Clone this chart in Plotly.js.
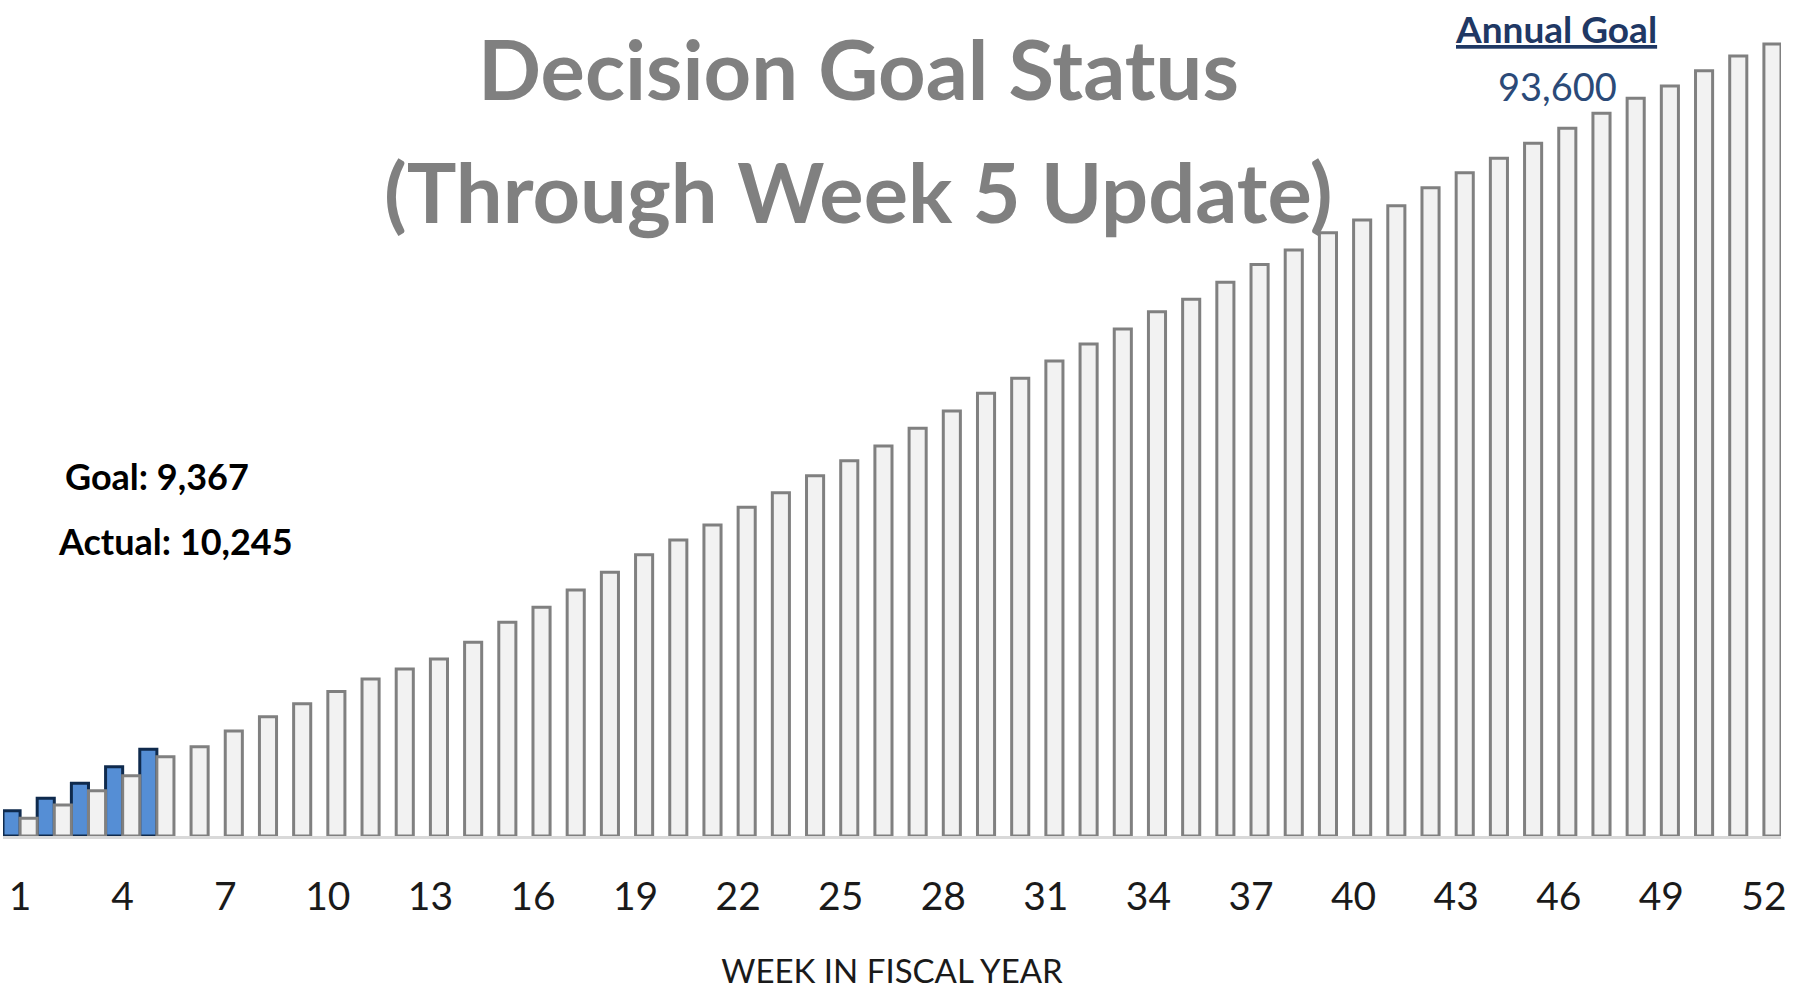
<!DOCTYPE html>
<html>
<head>
<meta charset="utf-8">
<script src="https://cdn.plot.ly/plotly-3.0.1.min.js"></script>
<style>
  html, body { margin: 0; padding: 0; background: #ffffff; }
  #chart { width: 1806px; height: 994px; }
</style>
</head>
<body>
<div id="chart"></div>
<script>
// ---- data ----
const weeks = [1,2,3,4,5,6,7,8,9,10,11,12,13,14,15,16,17,18,19,20,21,22,23,24,25,26,
               27,28,29,30,31,32,33,34,35,36,37,38,39,40,41,42,43,44,45,46,47,48,49,50,51,52];
const goalCumulative = [2090, 3660, 5350, 7130, 9367, 10550, 12410, 14100, 15640, 17080,
                        18550, 19740, 20920, 22890, 25260, 27030, 29070, 31160, 33240, 34980,
                        36750, 38850, 40570, 42580, 44350, 46090, 48180, 50230, 52320, 54090,
                        56140, 58150, 59920, 61960, 63430, 65440, 67540, 69250, 71300, 72800,
                        74490, 76620, 78390, 80090, 81860, 83640, 85410, 87180, 88640, 90440,
                        92180, 93600];
const actualWeeks = [1,2,3,4,5];
const actualCumulative = [2990, 4460, 6230, 8190, 10245];
const tickWeeks = [1,4,7,10,13,16,19,22,25,28,31,34,37,40,43,46,49,52];
const tickLabels = ['1','4','7','10','13','16','19','22','25','28','31','34','37','40','43','46','49','52'];

const titleLine1 = 'Decision Goal Status';
const titleLine2 = '(Through Week 5 Update)';
const annualGoalLabel = 'Annual Goal';
const annualGoalValue = '93,600';
const goalToDate = 'Goal: 9,367';
const actualToDate = 'Actual: 10,245';
const xAxisTitle = 'WEEK IN FISCAL YEAR';

// ---- layout helpers (pixel -> paper) ----
const W = 1806, H = 994;
const M = {l: 3, r: 25, t: 20, b: 158};
const plotW = W - M.l - M.r, plotH = H - M.t - M.b;
const px = x => (x - M.l) / plotW;
const py = y => (H - M.b - y) / plotH;

const FONT = 'Lato, "Open Sans", sans-serif';

const traces = [
  {
    type: 'bar', name: 'Actual', x: actualWeeks, y: actualCumulative,
    marker: {color: '#558ed5', line: {color: '#0f2a4d', width: 3}},
    hoverinfo: 'x+y'
  },
  {
    type: 'bar', name: 'Goal', x: weeks, y: goalCumulative,
    marker: {color: '#f2f2f2', line: {color: '#808080', width: 3}},
    hoverinfo: 'x+y'
  }
];

const layout = {
  width: W, height: H,
  margin: M,
  paper_bgcolor: '#ffffff', plot_bgcolor: '#ffffff',
  showlegend: false,
  barmode: 'group', bargap: 0, bargroupgap: 0,
  font: {family: FONT, color: '#000000'},
  xaxis: {
    type: 'linear', range: [0.5, 52.5],
    tickmode: 'array', tickvals: tickWeeks, ticktext: tickLabels,
    ticks: '', ticklabelstandoff: 24,
    tickfont: {family: FONT, size: 39, color: '#1a1a1a'},
    showline: true, linecolor: '#d9d9d9', linewidth: 3,
    showgrid: false, zeroline: false,
    title: {text: xAxisTitle, font: {family: FONT, size: 33, color: '#1a1a1a'}, standoff: 44}
  },
  yaxis: {
    range: [0, 96436], visible: false, showgrid: false, zeroline: false
  },
  annotations: [
    {xref: 'paper', yref: 'paper', x: px(858), y: py(68), xanchor: 'center', yanchor: 'middle',
     text: '<b>' + titleLine1 + '</b>', showarrow: false,
     font: {family: FONT, size: 83, color: '#808080'}},
    {xref: 'paper', yref: 'paper', x: px(858), y: py(191), xanchor: 'center', yanchor: 'middle',
     text: '<b>' + titleLine2 + '</b>', showarrow: false,
     font: {family: FONT, size: 83, color: '#808080'}},
    {xref: 'paper', yref: 'paper', x: px(1556), y: py(29), xanchor: 'center', yanchor: 'middle',
     text: '<b>' + annualGoalLabel + '</b>', showarrow: false,
     font: {family: FONT, size: 37, color: '#1f3864', lineposition: 'under'}},
    {xref: 'paper', yref: 'paper', x: px(1557), y: py(86), xanchor: 'center', yanchor: 'middle',
     text: annualGoalValue, showarrow: false,
     font: {family: FONT, size: 38, color: '#2b4a78'}},
    {xref: 'paper', yref: 'paper', x: px(63), y: py(476), xanchor: 'left', yanchor: 'middle',
     text: '<b>' + goalToDate + '</b>', showarrow: false,
     font: {family: FONT, size: 36, color: '#000000'}},
    {xref: 'paper', yref: 'paper', x: px(56), y: py(541), xanchor: 'left', yanchor: 'middle',
     text: '<b>' + actualToDate + '</b>', showarrow: false,
     font: {family: FONT, size: 36, color: '#000000'}}
  ]
};

Plotly.newPlot('chart', traces, layout, {displayModeBar: false, staticPlot: true});
</script>
</body>
</html>
